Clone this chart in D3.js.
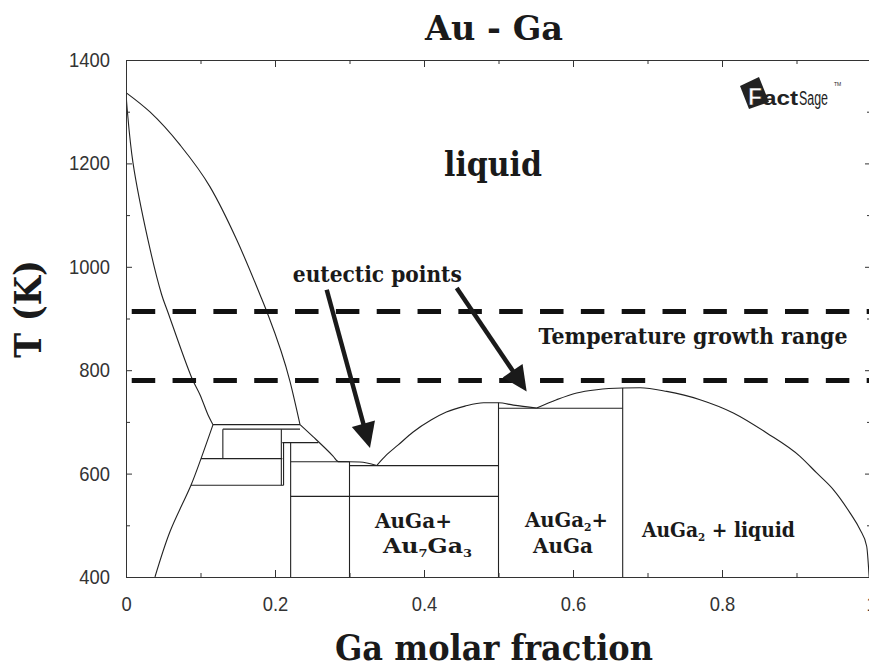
<!DOCTYPE html>
<html>
<head>
<meta charset="utf-8">
<script src="https://cdn.jsdelivr.net/npm/d3@7"></script>
<style>
  html, body { margin: 0; padding: 0; background: #fff; }
  svg { display: block; }
  .serif { font-family: "DejaVu Serif", "Liberation Serif", serif; font-weight: bold; fill: #1a1a1a; }
  .tick text { font-family: "Liberation Sans", Arial, sans-serif; font-size: 20px; fill: #333; }
  .axis path, .axis line { stroke: #333; stroke-width: 1; }
</style>
</head>
<body>
<svg id="chart" width="869" height="670"></svg>
<script>
// Au-Ga binary phase diagram (Ga molar fraction vs temperature in K)

// Axis ticks
const xMajorTicks = [0, 0.2, 0.4, 0.6, 0.8, 1];
const xMinorTicks = [0.1, 0.3, 0.5, 0.7, 0.9];
const yMajorTicks = [400, 600, 800, 1000, 1200, 1400];
const yMinorTicks = [500, 700, 900, 1100, 1300];

// Au-rich liquidus: pure Au melting point down to the peritectic
const liquidusAu = [
  [0, 1337], [0.0322, 1299.5], [0.0725, 1235.7], [0.1128, 1154.6], [0.1486, 1052.2],
  [0.1799, 945.9], [0.1889, 913.6], [0.2201, 778.4], [0.2336, 694.7]
];
// Liquidus between the peritectic and the first eutectic
const liquidusMid = [
  [0.2336, 694.7], [0.2510, 671.5], [0.2779, 634], [0.2850, 623.2], [0.3140, 622.5], [0.3365, 615.5]
];
// Liquidus over AuGa (congruent maximum at x = 0.5)
const liquidusAuGa = [
  [0.3365, 615.5], [0.350, 636.5], [0.365, 655], [0.385, 680], [0.410, 704],
  [0.430, 719], [0.455, 730.5], [0.480, 737], [0.500, 737], [0.520, 732.5], [0.5513, 726.9]
];
// Liquidus over AuGa2 and down towards pure Ga
const liquidusAuGa2 = [
  [0.5513, 726.9], [0.578, 743], [0.605, 756], [0.6318, 762.3], [0.6667, 765.6],
  [0.690, 766], [0.7258, 759], [0.7705, 743], [0.8152, 717.3], [0.860, 678.6],
  [0.9047, 633.4], [0.9271, 601.3], [0.9494, 569.1], [0.9718, 524], [0.9852, 491.8],
  [0.9942, 459.5], [0.9975, 400]
];
// Solidus and solvus of the Au-rich solid solution
const solidusAu = [
  [0, 1337], [0.0017, 1303], [0.0094, 1201], [0.0295, 1052], [0.0479, 946],
  [0.0559, 913.6], [0.0882, 785.5], [0.0993, 752.7], [0.110, 714], [0.1168, 694.7]
];
const solvusAu = [
  [0.1168, 694.7], [0.1007, 629], [0.0872, 577.4], [0.0591, 487.9], [0.0389, 400]
];

// Invariant (horizontal) lines: [T, x from, x to]
const isotherms = [
  [694.7, 0.1168, 0.2336], [686, 0.130, 0.2336], [660, 0.2098, 0.2581],
  [629, 0.1007, 0.2098], [623, 0.221, 0.300], [615.5, 0.300, 0.500],
  [577.4, 0.0872, 0.2115], [556, 0.221, 0.500], [726.5, 0.500, 0.6667]
];
// Phase boundaries at fixed composition: [x, T top, T bottom]
const isopleths = [
  [0.130, 686, 629], [0.2085, 686, 577.4], [0.2115, 660, 577.4],
  [0.221, 660, 400], [0.300, 623, 400], [0.500, 737, 400], [0.6667, 765.6, 400]
];

// Growth temperature window (K)
const growthRange = [913.5, 780];

// Arrows to the eutectic points: [[x0, T0], [x1, T1]]
const eutecticArrows = [
  [[0.2694, 955.6], [0.3275, 649.7]],
  [[0.4439, 958.8], [0.5378, 759]]
];

// Region labels: parts are [text, isSubscript]
const phaseLabels = [
  { parts: [["AuGa+", 0]], x: 0.3342, T: 495.7, len: 77 },
  { parts: [["Au", 0], ["7", 1], ["Ga", 0], ["3", 1]], x: 0.3450, T: 447.3, len: 89 },
  { parts: [["AuGa", 0], ["2", 1], ["+", 0]], x: 0.5356, T: 497.6, len: 83 },
  { parts: [["AuGa", 0]], x: 0.5463, T: 447.3, len: 60 },
  { parts: [["AuGa", 0], ["2", 1], [" + liquid", 0]], x: 0.6926, T: 478.3, len: 153 }
];

const svg = d3.select("#chart");
const x = d3.scaleLinear().domain([0, 1]).range([126, 871]);
const y = d3.scaleLinear().domain([400, 1400]).range([577, 60]);

const plot = svg.append("g");
plot.append("clipPath").attr("id", "plotclip")
  .append("rect").attr("x", 126).attr("y", 60).attr("width", 745).attr("height", 517);
const lines = plot.append("g").attr("clip-path", "url(#plotclip)");

const lineSmooth = d3.line().x(d => x(d[0])).y(d => y(d[1])).curve(d3.curveMonotoneX);
const lineCR = d3.line().x(d => x(d[0])).y(d => y(d[1])).curve(d3.curveCatmullRom.alpha(0.5));

const boundaryStyle = sel => sel.attr("fill", "none").attr("stroke", "#222").attr("stroke-width", 1.1);

[liquidusAu, liquidusMid, liquidusAuGa, liquidusAuGa2].forEach(c =>
  lines.append("path").attr("d", lineSmooth(c)).call(boundaryStyle));
lines.append("path").attr("d", lineCR(solidusAu)).call(boundaryStyle);
lines.append("path").attr("d", lineCR(solvusAu)).call(boundaryStyle);

lines.selectAll("line.iso-t").data(isotherms).join("line").attr("class", "iso-t")
  .attr("x1", d => x(d[1])).attr("x2", d => x(d[2]))
  .attr("y1", d => y(d[0])).attr("y2", d => y(d[0]))
  .call(boundaryStyle);
lines.selectAll("line.iso-x").data(isopleths).join("line").attr("class", "iso-x")
  .attr("x1", d => x(d[0])).attr("x2", d => x(d[0]))
  .attr("y1", d => y(d[1])).attr("y2", d => y(d[2]))
  .call(boundaryStyle);

// Dashed growth-range limits
svg.selectAll("line.growth").data(growthRange).join("line").attr("class", "growth")
  .attr("x1", x(0)).attr("x2", 869)
  .attr("y1", d => y(d)).attr("y2", d => y(d))
  .attr("stroke", "#111").attr("stroke-width", 5)
  .attr("stroke-dasharray", "23.5 17.33").attr("stroke-dashoffset", 35.1);

// Axes with inward ticks
function styleAxis(g) {
  g.attr("class", "axis");
  g.selectAll(".domain").attr("stroke", "#333");
}
const xFmt = d => d === 0 ? "0" : d === 1 ? "1" : d3.format(".1f")(d);

svg.append("g").attr("transform", `translate(0,${y(400)})`)
  .call(d3.axisBottom(x).tickValues(xMajorTicks).tickSizeInner(-7).tickSizeOuter(0).tickPadding(20).tickFormat(xFmt))
  .call(styleAxis)
  .call(g => g.selectAll("text").attr("transform", "scale(0.92,1)"));
svg.append("g").attr("transform", `translate(0,${y(400)})`)
  .call(d3.axisBottom(x).tickValues(xMinorTicks).tickSizeInner(-4).tickSizeOuter(0).tickFormat(""))
  .call(styleAxis);
svg.append("g").attr("transform", `translate(0,${y(1400)})`)
  .call(d3.axisTop(x).tickValues(xMajorTicks).tickSizeInner(-7).tickSizeOuter(0).tickFormat(""))
  .call(styleAxis);
svg.append("g").attr("transform", `translate(0,${y(1400)})`)
  .call(d3.axisTop(x).tickValues(xMinorTicks).tickSizeInner(-4).tickSizeOuter(0).tickFormat(""))
  .call(styleAxis);

svg.append("g").attr("transform", `translate(${x(0)},0)`)
  .call(d3.axisLeft(y).tickValues(yMajorTicks).tickSizeInner(-6).tickSizeOuter(0).tickPadding(16).tickFormat(d3.format("d")))
  .call(styleAxis)
  .call(g => g.selectAll("text").attr("x", -16 / 0.92).attr("transform", "scale(0.92,1)"));
svg.append("g").attr("transform", `translate(${x(0)},0)`)
  .call(d3.axisLeft(y).tickValues(yMinorTicks).tickSizeInner(-4).tickSizeOuter(0).tickFormat(""))
  .call(styleAxis);
svg.append("g").attr("transform", `translate(${x(1)},0)`)
  .call(d3.axisRight(y).tickValues(yMajorTicks).tickSizeInner(-6).tickSizeOuter(0).tickFormat(""))
  .call(styleAxis);
svg.append("g").attr("transform", `translate(${x(1)},0)`)
  .call(d3.axisRight(y).tickValues(yMinorTicks).tickSizeInner(-4).tickSizeOuter(0).tickFormat(""))
  .call(styleAxis);

// Arrows
const arrowG = svg.append("g");
eutecticArrows.forEach(([a, b]) => {
  const x0 = x(a[0]), y0 = y(a[1]), x1 = x(b[0]), y1 = y(b[1]);
  const dx = x1 - x0, dy = y1 - y0, L = Math.hypot(dx, dy);
  const ux = dx / L, uy = dy / L, headLen = 25, halfW = 12;
  const bx = x1 - ux * headLen, by = y1 - uy * headLen;
  arrowG.append("line").attr("x1", x0).attr("y1", y0).attr("x2", bx + ux * 2).attr("y2", by + uy * 2)
    .attr("stroke", "#1a1a1a").attr("stroke-width", 4.5);
  arrowG.append("polygon")
    .attr("points", [[x1, y1], [bx - uy * halfW, by + ux * halfW], [bx + uy * halfW, by - ux * halfW]].map(p => p.join(",")).join(" "))
    .attr("fill", "#1a1a1a");
});

// Text annotations
function label(txt, cx, by, size, len, anchor = "middle") {
  return svg.append("text").attr("class", "serif")
    .attr("x", cx).attr("y", by).attr("font-size", size)
    .attr("text-anchor", anchor)
    .attr("textLength", len).attr("lengthAdjust", "spacingAndGlyphs")
    .text(txt);
}
label("Au - Ga", 494, 40, 34, 138);
label("liquid", x(0.4926), y(1175.8), 34, 98);
label("eutectic points", x(0.3373), y(971), 22, 169);
label("Temperature growth range", x(0.7611), y(851), 22, 309);
label("Ga molar fraction", 494, 660, 36, 318);
svg.append("text").attr("class", "serif")
  .attr("transform", "translate(41,309) rotate(-90)")
  .attr("font-size", 37).attr("text-anchor", "middle")
  .attr("textLength", 98).attr("lengthAdjust", "spacingAndGlyphs")
  .text("T (K)");

// Phase-region labels with subscripts, squeezed horizontally to their width
phaseLabels.forEach(p => {
  const t = svg.append("text").attr("class", "serif")
    .attr("x", 0).attr("y", 0).attr("font-size", 20);
  p.parts.forEach(([s, sub], i) => {
    const ts = t.append("tspan").text(s);
    if (sub) ts.attr("font-size", 11).attr("dy", 4);
    else if (i > 0 && p.parts[i - 1][1]) ts.attr("dy", -4);
  });
  const w = t.node().getComputedTextLength() || p.len;
  t.attr("transform", `translate(${x(p.x)},${y(p.T)}) scale(${p.len / w},1)`);
});

// FactSage mark
const logo = svg.append("g");
const sans = "Liberation Sans, Arial, sans-serif";
logo.append("polygon").attr("points", "740,86 759,77 769,102 749,109").attr("fill", "#222");
logo.append("text").attr("x", 748).attr("y", 105).attr("font-family", sans)
  .attr("font-weight", "bold").attr("font-size", 24).attr("fill", "#fff").attr("stroke", "#222").attr("stroke-width", 0.6)
  .attr("textLength", 14).attr("lengthAdjust", "spacingAndGlyphs").text("F");
logo.append("text").attr("x", 763).attr("y", 105).attr("font-family", sans)
  .attr("font-weight", "bold").attr("font-size", 21).attr("fill", "#222")
  .attr("textLength", 35).attr("lengthAdjust", "spacingAndGlyphs").text("act");
logo.append("text").attr("x", 799).attr("y", 105).attr("font-family", sans)
  .attr("font-size", 20).attr("fill", "#222")
  .attr("textLength", 29).attr("lengthAdjust", "spacingAndGlyphs").text("Sage");
logo.append("text").attr("x", 834).attr("y", 86).attr("font-family", sans)
  .attr("font-size", 5).attr("fill", "#222").text("TM");
</script>
</body>
</html>
